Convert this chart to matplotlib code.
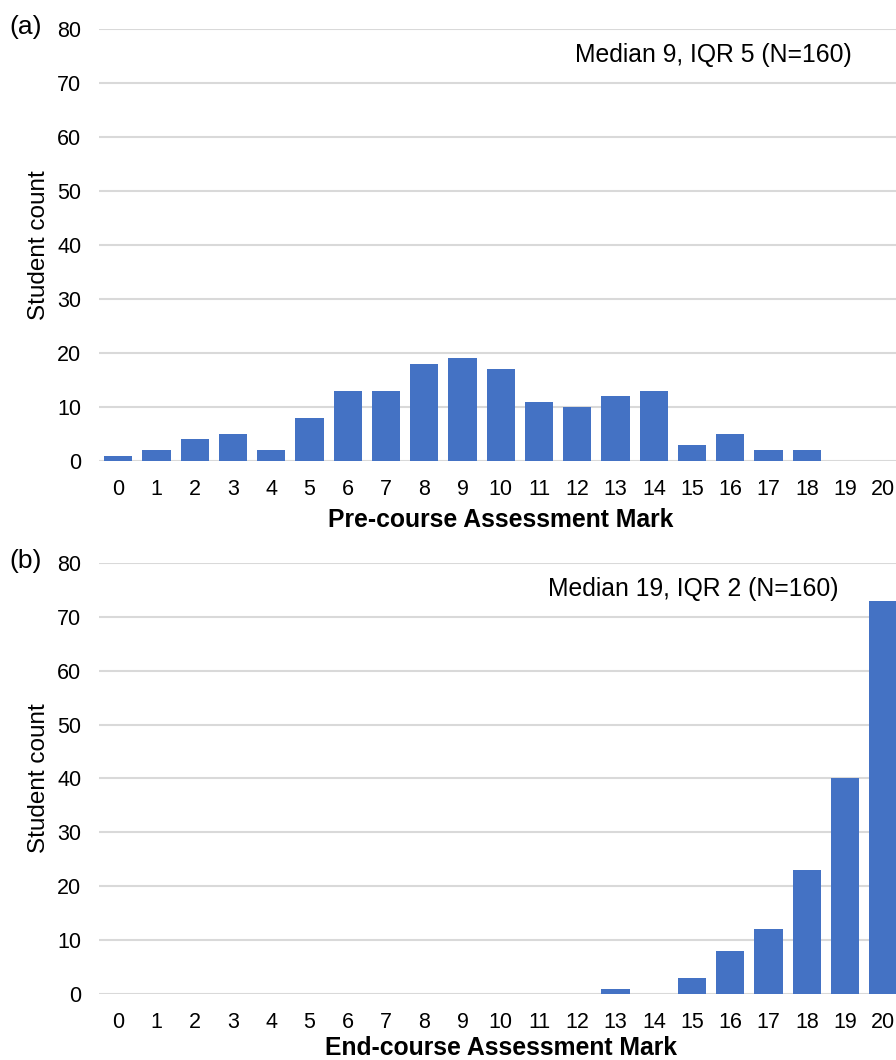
import numpy as np
import matplotlib
matplotlib.use("Agg")
import matplotlib.pyplot as plt

plt.rcParams['font.family'] = ['Liberation Sans', 'DejaVu Sans']

marks = list(range(21))
pre_counts = [1, 2, 4, 5, 2, 8, 13, 13, 18, 19, 17, 11, 10, 12, 13, 3, 5, 2, 2, 0, 0]
end_counts = [0, 0, 0, 0, 0, 0, 0, 0, 0, 0, 0, 0, 0, 1, 0, 3, 8, 12, 23, 40, 73]
pre_note = "Median 9, IQR 5 (N=160)"
end_note = "Median 19, IQR 2 (N=160)"

bar_color = "#4472C4"
grid_color = "#D9D9D9"

fig = plt.figure(figsize=(8.96, 10.6), dpi=100)

# axes run slightly past the right edge, like the cropped original
ax_a = fig.add_axes([0.1107, 0.5651, 0.8965, 0.4075])
ax_b = fig.add_axes([0.1107, 0.0623, 0.8965, 0.4066])

panels = [
    (ax_a, pre_counts, "Pre-course Assessment Mark", pre_note, "(a)", (0.765, 0.94), 6),
    (ax_b, end_counts, "End-course Assessment Mark", end_note, "(b)", (0.739, 0.94), 2),
]

for ax, counts, xlabel, note, tag, note_pos, lpad in panels:
    ax.bar(marks, counts, width=0.74, color=bar_color, zorder=3)
    ax.set_xlim(-0.5, 20.5)
    ax.set_ylim(0, 80)
    ax.set_yticks(np.arange(0, 81, 10))
    ax.set_xticks(marks)
    ax.grid(axis='y', color=grid_color, linewidth=1.5, zorder=0)
    ax.set_axisbelow(True)
    for s in ax.spines.values():
        s.set_visible(False)
    ax.tick_params(length=0, labelsize=15.5, colors='black')
    ax.tick_params(axis='x', pad=13)
    ax.tick_params(axis='y', pad=13)
    ax.set_xlabel(xlabel, fontsize=17.8, fontweight='bold', labelpad=lpad)
    ax.set_ylabel("Student count", fontsize=17.5, labelpad=5)
    ax.text(note_pos[0], note_pos[1], note, transform=ax.transAxes,
            ha='center', va='center', fontsize=17.8)
    ax.text(-0.112, 1.005, tag, transform=ax.transAxes, ha='left', va='center',
            fontsize=19)

fig.savefig("out.png", dpi=100)
